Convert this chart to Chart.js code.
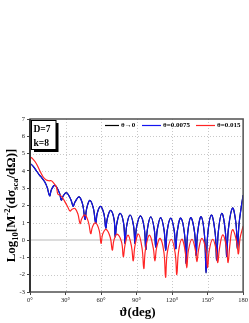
<!DOCTYPE html>
<html><head><meta charset="utf-8">
<script src="https://cdn.jsdelivr.net/npm/chart.js@4"></script>
<style>html,body{margin:0;padding:0;background:#fff;overflow:hidden}</style>
</head><body><canvas id="c" width="249" height="323"></canvas>
<script>
const xTickLabels = ['0°','30°','60°','90°','120°','150°','180'];
const seriesLabels = ['θ→0','θ=0.0075','θ=0.015'];
const boxLines = ['D=7','k=8'];

const blueAngles = [0,2,4,6,8,10,12.4,14.5,16.6,18,20.8,23,25,26.5,28,30.7,33,35,36.5,38,41.5,44.5,46.5,47.8,50.5,53.5,55.5,56.8,59.5,62.5,64,65.3,68,71,72,73.3,76,79,80.3,81.6,84.5,87.4,88.7,90,93.3,96.5,97.8,99.1,102,104.9,106.2,107.5,110.4,113.3,114.6,115.9,118.9,121.8,123.1,124.4,127.3,130.5,131.8,133.1,135.8,139,140.3,141.6,144.5,147.4,148.7,150,153.2,156.4,157.7,159,162,164.9,166.2,167.5,171,173.9,175.2,176.5,178.5,180];
const blueValues = [4.43,4.32,4.14,3.95,3.76,3.6,3.37,3.05,2.56,2.9,3.18,3.0,2.7,2.31,2.55,2.75,2.55,2.25,1.95,2.2,2.5,2.05,1.2,1.8,2.3,1.85,1.0,1.55,1.95,1.5,0.7,1.25,1.72,1.2,0.2,0.95,1.55,1.0,-0.19,0.8,1.45,0.85,-0.2,0.75,1.4,0.7,-0.55,0.6,1.35,0.65,-0.4,0.6,1.3,0.55,-0.6,0.55,1.27,0.55,-0.5,0.5,1.27,0.35,-1.35,0.35,1.3,0.45,-0.9,0.45,1.35,0.25,-1.9,0.25,1.45,0.4,-1.15,0.45,1.55,0.55,-0.95,0.6,1.85,1.0,-0.5,0.9,1.95,2.6];

const redAngles = [0,2.5,5.3,8,11,13.8,16,18,20,22.2,23.6,25.5,27.5,30,32,33.8,35.5,38,40.5,42.3,43.8,46.5,49.5,51.3,52.7,55.3,58.5,60,61.4,64.3,67.8,69.5,70.9,73.5,77.3,78.8,80.2,82.8,85.8,87.2,88.6,91.6,94.7,96.1,97.5,100.8,104.1,105.5,106.9,109.9,113.1,114.5,115.9,119.4,122.6,124,125.4,128.2,131,132.4,133.8,136.8,139.6,141,142.4,145.2,148.6,150,151.4,154.3,157.2,158.6,160,162.8,165.9,167.3,168.7,171,174.6,176,177.4,180];
const redValues = [4.82,4.68,4.43,4.05,3.66,3.47,3.43,3.43,3.3,3.08,2.65,2.6,2.45,2.15,1.9,1.68,1.78,1.83,1.5,0.96,1.25,1.45,1.0,0.37,0.75,1.0,0.55,-0.19,0.35,0.62,0.15,-0.58,0.0,0.35,-0.1,-0.96,-0.3,0.29,-0.4,-1.2,-0.35,0.35,-0.5,-1.65,-0.55,0.29,-0.45,-1.2,-0.45,0.1,-0.7,-2.15,-0.75,0.05,-0.75,-2.0,-0.7,0.05,-0.6,-1.6,-0.6,0.05,-0.55,-1.25,-0.55,0.1,-0.6,-1.6,-0.6,0.05,-0.55,-1.3,-0.5,0.3,-0.4,-1.3,-0.35,0.6,-0.1,-0.8,0.1,0.8];

// θ→0 curve coincides with θ=0.0075 in the figure (hidden underneath)
const zeroAngles = blueAngles;
const zeroValues = blueValues;

const colors = ['#000000','#1414f0','#ff2424'];
const toPts = (a, v) => a.map((x, i) => ({x: x, y: v[i]}));

const serif = '"Liberation Serif","DejaVu Serif",serif';

const decor = {
  id: 'decor',
  beforeDatasetsDraw(chart) {
    const {ctx, chartArea: ca, scales: {x, y}} = chart;
    ctx.save();
    ctx.lineWidth = 1;
    ctx.strokeStyle = '#c8c8c8';
    ctx.setLineDash([1, 2]);
    for (let v = 30; v < 180; v += 30) {
      const px = Math.round(x.getPixelForValue(v)) + 0.5;
      ctx.beginPath(); ctx.moveTo(px, ca.top); ctx.lineTo(px, ca.bottom); ctx.stroke();
    }
    for (let v = -2; v < 7; v++) {
      if (v === 0) continue;
      const py = Math.round(y.getPixelForValue(v)) + 0.5;
      ctx.beginPath(); ctx.moveTo(ca.left, py); ctx.lineTo(ca.right, py); ctx.stroke();
    }
    ctx.setLineDash([]);
    ctx.strokeStyle = '#dcdcdc';
    ctx.lineWidth = 2;
    const p0 = y.getPixelForValue(0);
    ctx.beginPath(); ctx.moveTo(ca.left, p0); ctx.lineTo(ca.right, p0); ctx.stroke();
    ctx.restore();
  },
  afterDatasetsDraw(chart) {
    const {ctx, chartArea: ca} = chart;
    ctx.save();
    ctx.strokeStyle = '#505050';
    ctx.lineWidth = 1.5;
    ctx.strokeRect(ca.left, ca.top, ca.right - ca.left, ca.bottom - ca.top);
    ctx.lineWidth = 2;
    ctx.strokeStyle = '#333';
    ctx.beginPath(); ctx.moveTo(ca.left, ca.top); ctx.lineTo(ca.left, ca.bottom); ctx.stroke();

    const legY = ca.top + 6.5;
    const legItems = [[105, 121], [142, 163], [196, 217]];
    ctx.font = 'bold 7px ' + serif;
    ctx.textBaseline = 'middle';
    legItems.forEach((it, i) => {
      ctx.strokeStyle = colors[i];
      ctx.lineWidth = 1.2;
      ctx.beginPath(); ctx.moveTo(it[0], legY); ctx.lineTo(it[1] - 2, legY); ctx.stroke();
      ctx.fillStyle = '#000';
      ctx.fillText(seriesLabels[i], it[1], legY);
    });

    const bx = 31.5, by = 120.5, bw = 24.5, bh = 29;
    ctx.fillStyle = '#000';
    ctx.fillRect(bx + 2.5, by + 2.5, bw, bh);
    ctx.fillStyle = '#fff';
    ctx.fillRect(bx, by, bw, bh);
    ctx.strokeStyle = '#000';
    ctx.lineWidth = 1;
    ctx.strokeRect(bx, by, bw, bh);
    ctx.fillStyle = '#000';
    ctx.font = 'bold 9.5px ' + serif;
    ctx.textBaseline = 'alphabetic';
    ctx.textAlign = 'left';
    ctx.fillText(boxLines[0], bx + 2, by + 11.5);
    ctx.fillText(boxLines[1], bx + 2, by + 25);

    ctx.font = 'bold 13px ' + serif;
    ctx.textAlign = 'center';
    ctx.fillText('ϑ(deg)', (ca.left + ca.right) / 2 + 1, 316);

    const segs = [['Log', 0], ['10', 1], ['[M', 0], ['-2', 2], ['(dσ', 0], ['sca', 1], ['/dΩ)]', 0]];
    const big = 'bold 13px ' + serif, small = 'bold 8.5px ' + serif;
    let total = 0;
    segs.forEach(s => { ctx.font = s[1] ? small : big; total += ctx.measureText(s[0]).width; });
    ctx.translate(14.5, (ca.top + ca.bottom) / 2);
    ctx.rotate(-Math.PI / 2);
    ctx.textAlign = 'left';
    let cx = -total / 2;
    segs.forEach(s => {
      ctx.font = s[1] ? small : big;
      const dy = s[1] === 1 ? 3 : (s[1] === 2 ? -5 : 0);
      ctx.fillText(s[0], cx, dy);
      cx += ctx.measureText(s[0]).width;
    });
    ctx.restore();
  }
};

new Chart(document.getElementById('c'), {
  type: 'line',
  data: {
    datasets: [
      {label: seriesLabels[0], data: toPts(zeroAngles, zeroValues), borderColor: colors[0], order: 3},
      {label: seriesLabels[1], data: toPts(blueAngles, blueValues), borderColor: colors[1], order: 2},
      {label: seriesLabels[2], data: toPts(redAngles, redValues), borderColor: colors[2], order: 1}
    ].map(d => Object.assign(d, {borderWidth: 1.2, pointRadius: 0, tension: 0.4, fill: false}))
  },
  options: {
    responsive: false,
    animation: false,
    events: [],
    layout: {padding: {top: 119, right: 4, left: 0, bottom: 0}},
    plugins: {legend: {display: false}, tooltip: {enabled: false}},
    scales: {
      x: {
        type: 'linear', min: 0, max: 180,
        afterFit: s => { s.height = 31; },
        afterBuildTicks: s => { s.ticks = xTickLabels.map((t, i) => ({value: i * 30})); },
        grid: {drawOnChartArea: false, drawTicks: true, tickLength: 3, color: '#444', lineWidth: 1},
        border: {display: false},
        ticks: {font: {family: serif, size: 6.5}, color: '#222', padding: 1, maxRotation: 0,
          callback: (v, i) => xTickLabels[i]}
      },
      y: {
        min: -3, max: 7,
        afterFit: s => { s.width = 30; },
        grid: {drawOnChartArea: false, drawTicks: true, tickLength: 3, color: '#444', lineWidth: 1},
        border: {display: false},
        ticks: {stepSize: 1, font: {family: serif, size: 6.5}, color: '#222', padding: 2}
      }
    }
  },
  plugins: [decor]
});
</script>
</body></html>
